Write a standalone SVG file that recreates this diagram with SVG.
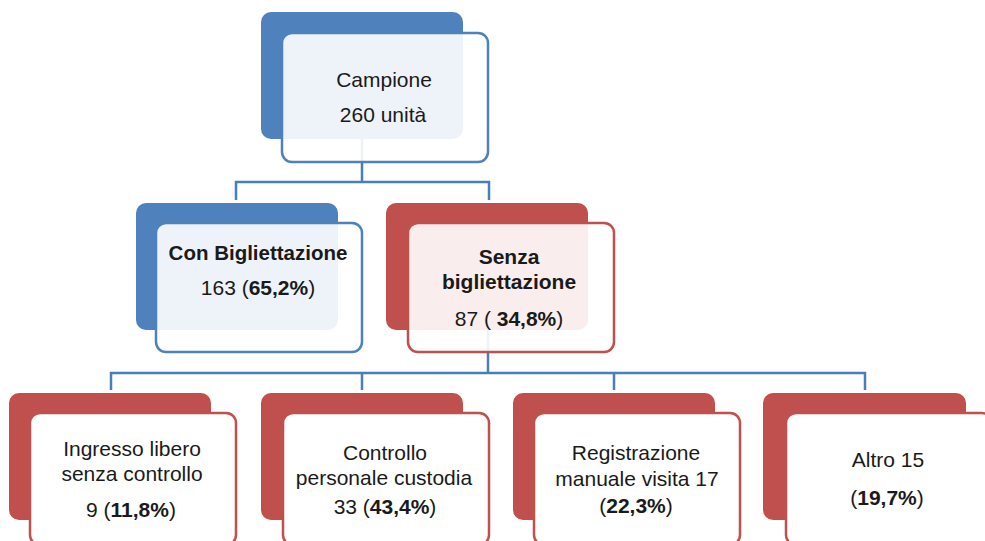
<svg xmlns="http://www.w3.org/2000/svg" width="985" height="541" viewBox="0 0 985 541">
<style>
.bb{fill:#4F81BD}
.br{fill:#C0504D}
.fb{fill:#ffffff;fill-opacity:0.9;stroke:#4F81BD;stroke-width:2.5}
.fr{fill:#ffffff;fill-opacity:0.9;stroke:#C0504D;stroke-width:2.5}
.fw{fill:#ffffff;stroke:#C0504D;stroke-width:2.5}
.c{fill:none;stroke:#4A7EBB;stroke-width:2.5}
text{font-family:"Liberation Sans",Arial,sans-serif;font-size:21px;fill:#1a1a1a;text-anchor:middle}
.b{font-weight:bold}
</style>
<rect width="985" height="541" fill="#ffffff"/>
<g id="connectors">
<path class="c" d="M362 139V182M236 200V182H489V200"/>
<path class="c" d="M488 329V373M111 390V373H865V390M362 373V390M614 373V390"/>
</g>
<g id="campione">
<rect class="bb" x="261" y="12" width="202" height="127" rx="10"/>
<rect class="fb" x="282" y="33" width="206" height="129" rx="10"/>
<text x="384" y="87">Campione</text>
<text x="383" y="122">260 unità</text>
</g>
<g id="con">
<rect class="bb" x="136" y="203" width="202" height="127" rx="10"/>
<rect class="fb" x="156" y="223" width="206" height="129" rx="10"/>
<text class="b" x="258" y="260" style="font-size:20.5px">Con Bigliettazione</text>
<text x="258" y="295">163 (<tspan class="b">65,2%</tspan>)</text>
</g>
<g id="senza">
<rect class="br" x="386" y="203" width="202" height="127" rx="10"/>
<rect class="fr" x="408" y="223" width="206" height="129" rx="10"/>
<text class="b" x="509" y="264">Senza</text>
<text class="b" x="509" y="289">bigliettazione</text>
<text x="509" y="326">87 ( <tspan class="b">34,8%</tspan>)</text>
</g>
<g id="ingresso">
<rect class="br" x="9" y="393" width="202" height="127" rx="10"/>
<rect class="fw" x="30" y="413" width="206" height="132" rx="10"/>
<text x="132" y="456">Ingresso libero</text>
<text x="132" y="481">senza controllo</text>
<text x="131" y="517">9 (<tspan class="b">11,8%</tspan>)</text>
</g>
<g id="controllo">
<rect class="br" x="261" y="393" width="202" height="127" rx="10"/>
<rect class="fw" x="283" y="413" width="206" height="132" rx="10"/>
<text x="385" y="460">Controllo</text>
<text x="384" y="485">personale custodia</text>
<text x="385" y="514">33 (<tspan class="b">43,4%</tspan>)</text>
</g>
<g id="registrazione">
<rect class="br" x="513" y="393" width="202" height="127" rx="10"/>
<rect class="fw" x="534" y="413" width="206" height="132" rx="10"/>
<text x="636" y="460">Registrazione</text>
<text x="637" y="486">manuale visita 17</text>
<text x="636" y="513">(<tspan class="b">22,3%</tspan>)</text>
</g>
<g id="altro">
<rect class="br" x="763" y="393" width="203" height="127" rx="10"/>
<rect class="fw" x="786" y="413" width="206" height="132" rx="10"/>
<text x="888" y="467">Altro 15</text>
<text x="887" y="505">(<tspan class="b">19,7%</tspan>)</text>
</g>
</svg>
